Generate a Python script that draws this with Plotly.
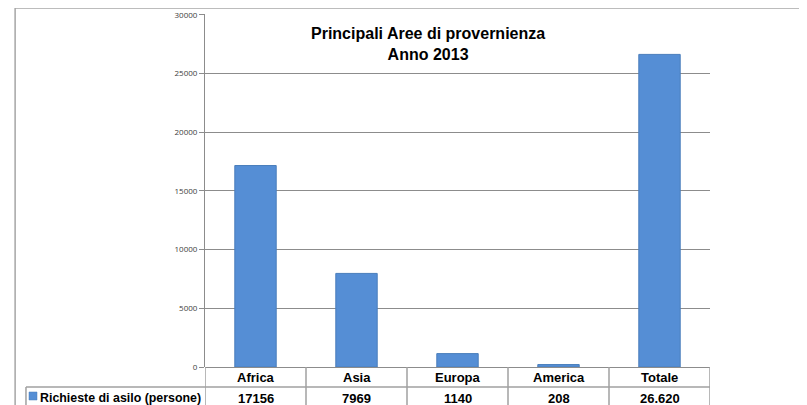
import plotly.graph_objects as go

# data
categories = ["Africa", "Asia", "Europa", "America", "Totale"]
richieste = [17156, 7969, 1140, 208, 26620]
value_labels = ["17156", "7969", "1140", "208", "26.620"]
series_name = "Richieste di asilo (persone)"
y_ticks = [0, 5000, 10000, 15000, 20000, 25000, 30000]

BAR = "#558ED5"
GRID = "#8c8c8c"
TABLE = "#a0a0a0"
TXT_FONT = "Liberation Sans Narrow, Arial Narrow, Liberation Sans, sans-serif"

fig = go.Figure()

fig.add_trace(go.Bar(
    x=categories,
    y=richieste,
    width=0.41,
    marker=dict(color=BAR, line=dict(color="#4a7ebb", width=1)),
    name=series_name,
    showlegend=False,
))

# outer chart border
shapes = [dict(type="rect", xref="paper", yref="paper",
               x0=-0.376, x1=1.4, y0=-0.3, y1=1.017,
               line=dict(color="#a6a6a6", width=1.5), layer="below")]

# data table grid under the axis
n = len(categories)
for i in range(n + 1):
    shapes.append(dict(type="line", xref="x", yref="paper",
                       x0=i - 0.5, x1=i - 0.5, y0=0, y1=-0.2,
                       line=dict(color=TABLE, width=1.5)))
shapes.append(dict(type="line", xref="paper", yref="paper",
                   x0=-0.3545, x1=1, y0=-0.0567, y1=-0.0567,
                   line=dict(color=TABLE, width=1.5)))
shapes.append(dict(type="line", xref="paper", yref="paper",
                   x0=-0.3545, x1=-0.3545, y0=-0.0567, y1=-0.2,
                   line=dict(color=TABLE, width=1.5)))
# legend key
shapes.append(dict(type="rect", xref="paper", yref="paper",
                   x0=-0.3485, x1=-0.3327, y0=-0.0708, y1=-0.0935,
                   fillcolor=BAR, line=dict(color="#4a7ebb", width=0.5)))

annotations = [dict(
    text="<b>Principali Aree di provernienza<br>Anno 2013</b>",
    xref="paper", yref="paper", x=0.4416, y=0.915,
    xanchor="center", yanchor="middle", showarrow=False,
    font=dict(family=TXT_FONT, size=16, color="#000000"),
)]
for cat, lab in zip(categories, value_labels):
    annotations.append(dict(text="<b>%s</b>" % cat, xref="x", yref="paper",
                            x=cat, y=-0.031, showarrow=False,
                            xanchor="center", yanchor="middle",
                            font=dict(family=TXT_FONT, size=13, color="#000000")))
    annotations.append(dict(text="<b>%s</b>" % lab, xref="x", yref="paper",
                            x=cat, y=-0.088, showarrow=False,
                            xanchor="center", yanchor="middle",
                            font=dict(family=TXT_FONT, size=13, color="#000000")))
annotations.append(dict(text="<b>%s</b>" % series_name, xref="paper", yref="paper",
                        x=-0.331, y=-0.088, showarrow=False,
                        xanchor="left", yanchor="middle",
                        font=dict(family=TXT_FONT, size=12.4, color="#000000")))

# the page body adds an 8px offset, so the figure is 8px smaller each way
fig.update_layout(
    width=799, height=397,
    margin=dict(l=197, r=97, t=6, b=38),
    paper_bgcolor="white", plot_bgcolor="white",
    showlegend=False,
    shapes=shapes,
    annotations=annotations,
    bargap=0.59,
)
fig.update_xaxes(type="category", showticklabels=False, showgrid=False,
                 showline=False, zeroline=False, range=[-0.5, n - 0.5],
                 automargin=False)
fig.update_yaxes(range=[0, 30060], tickvals=y_ticks, tickformat="d",
                 automargin=False,
                 showgrid=True, gridcolor=GRID, gridwidth=1,
                 showline=True, linecolor=GRID, linewidth=1,
                 ticks="outside", ticklen=5, tickcolor=GRID,
                 zeroline=True, zerolinecolor=GRID, zerolinewidth=1,
                 tickfont=dict(family="Open Sans, sans-serif", size=8, color="#404040"))

fig.write_html("out.html")
